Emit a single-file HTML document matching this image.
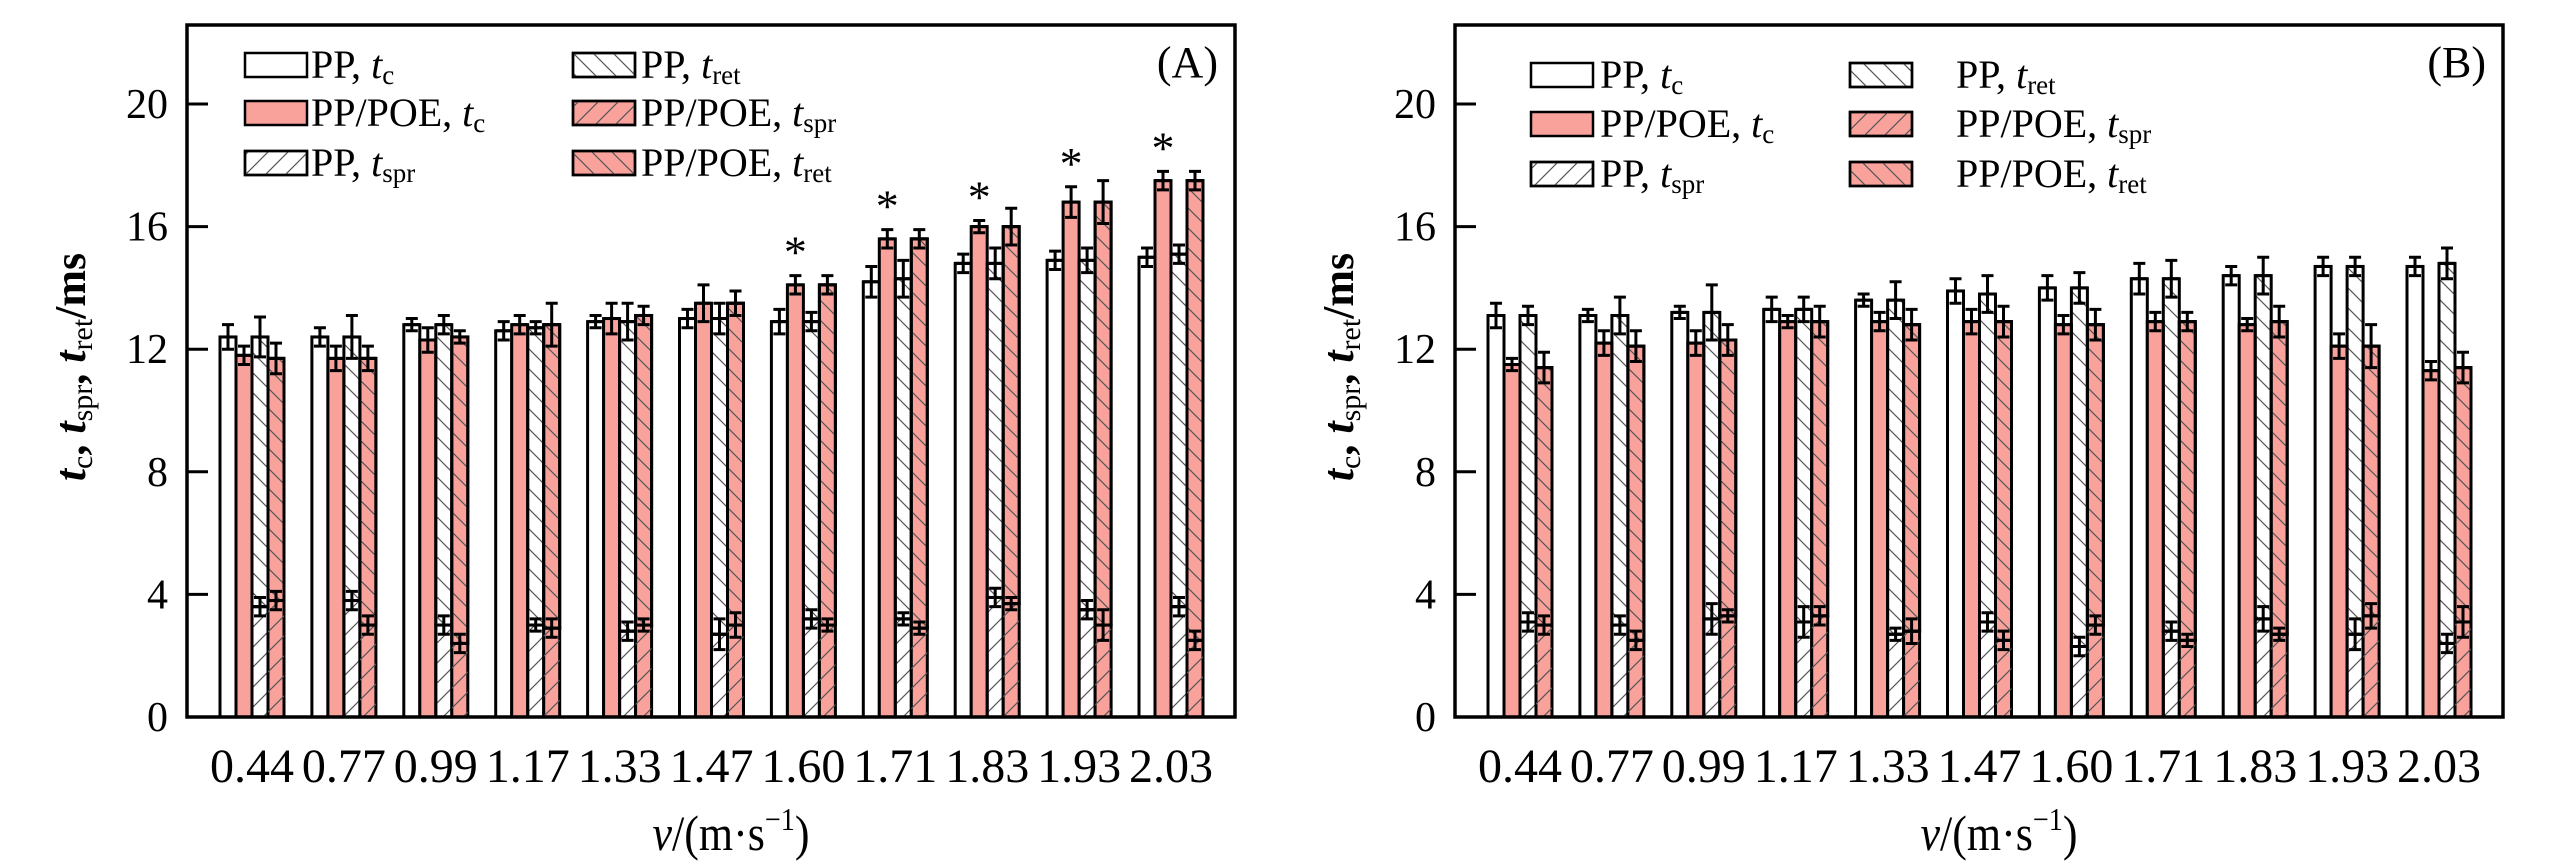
<!DOCTYPE html>
<html><head><meta charset="utf-8">
<style>
html,body{margin:0;padding:0;background:#fff;}
svg{display:block;font-family:"Liberation Serif",serif;}
</style></head>
<body>
<svg id="chart" width="2567" height="866" viewBox="0 0 2567 866" xmlns="http://www.w3.org/2000/svg">
<defs>
<pattern id="hatchFwd" patternUnits="userSpaceOnUse" width="20" height="20">
<path d="M-5,25 L25,-5 M-5,5 L5,-5 M15,25 L25,15" stroke="#555" stroke-width="1.2"/>
</pattern>
<pattern id="hatchBack" patternUnits="userSpaceOnUse" width="20" height="20">
<path d="M-5,-5 L25,25 M-5,15 L5,25 M15,-5 L25,5" stroke="#555" stroke-width="1.2"/>
</pattern>
</defs>
<g id="panels"></g>
</svg>
<script>
const categories = ["0.44","0.77","0.99","1.17","1.33","1.47","1.60","1.71","1.83","1.93","2.03"];
const yTicks = [0,4,8,12,16,20];
// Panel A
const aTcPP = [12.4,12.4,12.8,12.6,12.9,13.0,12.9,14.2,14.8,14.9,15.0];
const aTcPPErr = [0.4,0.3,0.2,0.3,0.2,0.3,0.4,0.5,0.3,0.3,0.3];
const aTcPOE = [11.8,11.7,12.3,12.8,13.0,13.5,14.1,15.6,16.0,16.8,17.5];
const aTcPOEErr = [0.3,0.4,0.4,0.3,0.5,0.6,0.3,0.3,0.2,0.5,0.3];
const aSprPP = [3.6,3.8,3.0,3.0,2.8,2.7,3.2,3.2,3.9,3.5,3.6];
const aSprPPErr = [0.3,0.3,0.3,0.2,0.3,0.5,0.3,0.2,0.3,0.3,0.3];
const aTotPP = [12.4,12.4,12.8,12.7,12.9,13.0,12.9,14.3,14.8,14.9,15.1];
const aTotPPErr = [0.65,0.7,0.3,0.2,0.6,0.5,0.3,0.6,0.5,0.4,0.3];
const aSprPOE = [3.8,3.0,2.4,2.9,3.0,3.0,3.0,2.9,3.7,3.0,2.5];
const aSprPOEErr = [0.3,0.3,0.3,0.3,0.2,0.4,0.2,0.2,0.2,0.5,0.3];
const aTotPOE = [11.7,11.7,12.4,12.8,13.1,13.5,14.1,15.6,16.0,16.8,17.5];
const aTotPOEErr = [0.5,0.4,0.2,0.7,0.3,0.4,0.3,0.3,0.6,0.7,0.3];
const aStars = [0,0,0,0,0,0,1,1,1,1,1];
// Panel B
const bTcPP = [13.1,13.1,13.2,13.3,13.6,13.9,14.0,14.3,14.4,14.7,14.7];
const bTcPPErr = [0.4,0.2,0.2,0.4,0.2,0.4,0.4,0.5,0.3,0.3,0.3];
const bTcPOE = [11.5,12.2,12.2,12.9,12.9,12.9,12.8,12.9,12.8,12.1,11.3];
const bTcPOEErr = [0.2,0.4,0.4,0.2,0.3,0.4,0.3,0.3,0.2,0.4,0.3];
const bSprPP = [3.1,3.0,3.2,3.1,2.7,3.1,2.3,2.8,3.2,2.7,2.4];
const bSprPPErr = [0.3,0.3,0.5,0.5,0.2,0.3,0.3,0.3,0.4,0.5,0.3];
const bTotPP = [13.1,13.1,13.2,13.3,13.6,13.8,14.0,14.3,14.4,14.7,14.8];
const bTotPPErr = [0.3,0.6,0.9,0.4,0.6,0.6,0.5,0.6,0.6,0.3,0.5];
const bSprPOE = [3.0,2.5,3.3,3.3,2.8,2.5,3.0,2.5,2.7,3.3,3.1];
const bSprPOEErr = [0.3,0.3,0.2,0.3,0.4,0.3,0.3,0.2,0.2,0.4,0.5];
const bTotPOE = [11.4,12.1,12.3,12.9,12.8,12.9,12.8,12.9,12.9,12.1,11.4];
const bTotPOEErr = [0.5,0.5,0.5,0.5,0.5,0.5,0.5,0.3,0.5,0.7,0.5];
const bStars = [0,0,0,0,0,0,0,0,0,0,0];

const NS = "http://www.w3.org/2000/svg";
const PINK = "#F9A29C";
const root = document.getElementById('panels');
function mk(tag, attrs, parent){
  const e = document.createElementNS(NS, tag);
  for (const k in attrs) e.setAttribute(k, attrs[k]);
  (parent||root).appendChild(e);
  return e;
}
function drawPanel(id, x0, label, d, leg){
  const x1 = x0 + 1048, yTop = 25, yBase = 717, ppu = 30.65;
  const Y = v => yBase - v*ppu;
  const X = i => x0 + 65 + i*91.9;
  const g = mk('g', {});
  
  
  const bw = 16;
  function rect(x, y0v, y1v, fill, name){
    const r = mk('rect', {x:x, y:Y(y1v), width:bw, height:Y(y0v)-Y(y1v), fill:fill, stroke:'#000', 'stroke-width':3}, g);
    
    
  }
  function err(xc, v, e, name){
    const p = mk('path', {d:`M${xc},${Y(v-e)} V${Y(v+e)} M${xc-6},${Y(v+e)} H${xc+6} M${xc-6},${Y(v-e)} H${xc+6} M${xc-8},${Y(v)} H${xc+8}`, stroke:'#000', 'stroke-width':3, fill:'none'}, g);
    
    
  }
  categories.forEach((c, i) => {
    const L = X(i) - 32;
    rect(L, 0, d.tcPP[i], '#fff', 'bar-pp-tc');
    rect(L+16, 0, d.tcPOE[i], PINK, 'bar-pppoe-tc');
    rect(L+32, 0, d.sprPP[i], 'url(#hatchFwd)', 'bar-pp-tspr');
    rect(L+32, d.sprPP[i], d.totPP[i], 'url(#hatchBack)', 'bar-pp-tret');
    rect(L+48, 0, d.sprPOE[i], PINK, 'bar-pppoe-tspr');
    mk('rect', {x:L+48, y:Y(d.sprPOE[i]), width:bw, height:Y(0)-Y(d.sprPOE[i]), fill:'url(#hatchFwd)'}, g);
    rect(L+48, d.sprPOE[i], d.totPOE[i], PINK, 'bar-pppoe-tret');
    mk('rect', {x:L+48, y:Y(d.totPOE[i]), width:bw, height:Y(d.sprPOE[i])-Y(d.totPOE[i]), fill:'url(#hatchBack)', stroke:'#000','stroke-width':3}, g);
    err(L+8, d.tcPP[i], d.tcPPErr[i], 'error-bar-pp-tc');
    err(L+24, d.tcPOE[i], d.tcPOEErr[i], 'error-bar-pppoe-tc');
    err(L+40, d.sprPP[i], d.sprPPErr[i], 'error-bar-pp-tspr');
    err(L+40, d.totPP[i], d.totPPErr[i], 'error-bar-pp-tret');
    err(L+56, d.sprPOE[i], d.sprPOEErr[i], 'error-bar-pppoe-tspr');
    err(L+56, d.totPOE[i], d.totPOEErr[i], 'error-bar-pppoe-tret');
    if (d.stars[i]) {
      const s = mk('text', {x:L+24, y:Y(d.tcPOE[i]+d.tcPOEErr[i]) - 8, 'text-anchor':'middle', 'font-size':46}, g);
      s.textContent = '*';
      
      
    }
    const t = mk('text', {x:X(i), y:782, 'text-anchor':'middle', 'font-size':48}, g);
    t.textContent = c;
    
    
  });
  const fr = mk('rect', {x:x0, y:yTop, width:x1-x0, height:yBase-yTop, fill:'none', stroke:'#000', 'stroke-width':3.5}, g);
  
  
  yTicks.forEach(v => {
    mk('line', {x1:x0, x2:x0+21, y1:Y(v), y2:Y(v), stroke:'#000', 'stroke-width':3}, g);
    const t = mk('text', {x:x0-19, y:Y(v)+14, 'text-anchor':'end', 'font-size':42}, g);
    t.textContent = v;
    
    
  });
  const pl = mk('text', {x:x1-17, y:77, 'text-anchor':'end', 'font-size':44}, g);
  pl.textContent = label;
  
  
  const lg = mk('g', {}, g);
  
  
  const entries = [
    [0,0,'#fff',null,'PP, ','c'],
    [0,1,PINK,null,'PP/POE, ','c'],
    [0,2,'#fff','url(#hatchFwd)','PP, ','spr'],
    [1,0,'#fff','url(#hatchBack)','PP, ','ret'],
    [1,1,PINK,'url(#hatchFwd)','PP/POE, ','spr'],
    [1,2,PINK,'url(#hatchBack)','PP/POE, ','ret']
  ];
  entries.forEach(en => {
    const px = en[0] ? leg.c2 : leg.c1, cy = leg.rows[en[1]];
    const txx = en[0] ? leg.t2 : leg.t1;
    const eg = mk('g', {}, lg);
    
    
    mk('rect', {x:px, y:cy-12, width:62, height:24, fill:en[2], stroke:'#000', 'stroke-width':2.5}, eg);
    if (en[3]) mk('rect', {x:px, y:cy-12, width:62, height:24, fill:en[3], stroke:'#000', 'stroke-width':2.5}, eg);
    const tx = mk('text', {x:txx, y:cy+13, 'font-size':40}, eg);
    const a = mk('tspan', {}, tx); a.textContent = en[4];
    const b = mk('tspan', {'font-style':'italic'}, tx); b.textContent = 't';
    const c = mk('tspan', {'font-size':27, dy:6}, tx); c.textContent = en[5];
  });
  const xt = mk('text', {transform:`translate(${(x0+x1)/2+20},850) scale(0.88,1)`, 'text-anchor':'middle', 'font-size':50}, g);
  
  
  const v1 = mk('tspan', {'font-style':'italic'}, xt); v1.textContent = 'v';
  const v2 = mk('tspan', {}, xt); v2.textContent = '/(m·s';
  const v3 = mk('tspan', {'font-size':32, dy:-20}, xt); v3.textContent = '−1';
  const v4 = mk('tspan', {dy:20}, xt); v4.textContent = ')';
  const yt = mk('text', {transform:`translate(${x0-102},367) rotate(-90)`, 'text-anchor':'middle', 'font-size':44, 'font-weight':'bold'}, g);
  
  
  const parts = [['t','italic',null],['c',null,'sub'],[', ',null,'up'],['t','italic',null],['spr',null,'sub'],[', ',null,'up'],['t','italic',null],['ret',null,'sub'],['/ms',null,'up']];
  parts.forEach(p => {
    const a = {};
    if (p[1]) a['font-style'] = p[1];
    if (p[2]==='sub'){ a['font-size']=30; a['font-weight']='normal'; a.dy=7; }
    if (p[2]==='up'){ a.dy=-7; }
    const s = mk('tspan', a, yt); s.textContent = p[0];
  });
}
drawPanel('a', 187, '(A)', {tcPP:aTcPP,tcPPErr:aTcPPErr,tcPOE:aTcPOE,tcPOEErr:aTcPOEErr,sprPP:aSprPP,sprPPErr:aSprPPErr,totPP:aTotPP,totPPErr:aTotPPErr,sprPOE:aSprPOE,sprPOEErr:aSprPOEErr,totPOE:aTotPOE,totPOEErr:aTotPOEErr,stars:aStars}, {c1:245,t1:311,c2:573,t2:641,rows:[65,113,163]});
drawPanel('b', 1455, '(B)', {tcPP:bTcPP,tcPPErr:bTcPPErr,tcPOE:bTcPOE,tcPOEErr:bTcPOEErr,sprPP:bSprPP,sprPPErr:bSprPPErr,totPP:bTotPP,totPPErr:bTotPPErr,sprPOE:bSprPOE,sprPOEErr:bSprPOEErr,totPOE:bTotPOE,totPOEErr:bTotPOEErr,stars:bStars}, {c1:1531,t1:1600,c2:1850,t2:1956,rows:[75,124,174]});
</script>
</body></html>
